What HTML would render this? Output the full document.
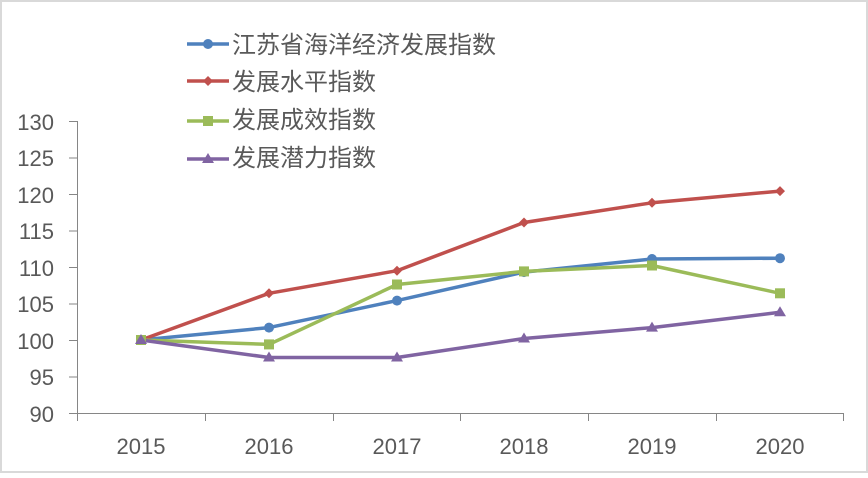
<!DOCTYPE html><html><head><style>body{margin:0;background:#fff}</style></head><body>
<svg width="868" height="473" xmlns="http://www.w3.org/2000/svg" font-family="Liberation Sans, Noto Sans CJK SC, sans-serif">
<rect x="1" y="1" width="866" height="471" fill="#fff" stroke="#d9d9d9" stroke-width="2"/>
<g stroke="#868686" stroke-width="1">
<line x1="77.5" y1="121" x2="77.5" y2="413"/>
<line x1="77" y1="413.5" x2="844" y2="413.5"/>
<g><line x1="69" x2="77" y1="121.5" y2="121.5"/><line x1="69" x2="77" y1="158" y2="158"/><line x1="69" x2="77" y1="194.5" y2="194.5"/><line x1="69" x2="77" y1="231" y2="231"/><line x1="69" x2="77" y1="267.5" y2="267.5"/><line x1="69" x2="77" y1="304" y2="304"/><line x1="69" x2="77" y1="340.5" y2="340.5"/><line x1="69" x2="77" y1="377" y2="377"/><line x1="69" x2="77" y1="413.5" y2="413.5"/></g>
<line x1="77.5" x2="77.5" y1="413" y2="421"/><line x1="205.5" x2="205.5" y1="413" y2="421"/><line x1="333.5" x2="333.5" y1="413" y2="421"/><line x1="460.5" x2="460.5" y1="413" y2="421"/><line x1="588.5" x2="588.5" y1="413" y2="421"/><line x1="716.5" x2="716.5" y1="413" y2="421"/><line x1="843.5" x2="843.5" y1="413" y2="421"/>
</g>
<g font-size="22" fill="#595959" text-anchor="end">
<text x="54" y="130">130</text><text x="54" y="166">125</text><text x="54" y="203">120</text><text x="54" y="239">115</text><text x="54" y="276">110</text><text x="54" y="312">105</text><text x="54" y="349">100</text><text x="54" y="385">95</text><text x="54" y="422">90</text>
</g>
<g font-size="22" fill="#595959" text-anchor="middle">
<text x="141" y="454">2015</text><text x="269" y="454">2016</text><text x="397" y="454">2017</text><text x="524" y="454">2018</text><text x="652" y="454">2019</text><text x="780" y="454">2020</text>
</g>
<g fill="none" stroke-width="3.5" stroke-linejoin="round">
<polyline stroke="#4f81bd" points="141,340 269,327.6 397,300.6 524,272.1 652,259 780,258.2"/>
<polyline stroke="#c0504d" points="141,340 269,293.3 397,270.7 524,222.5 652,202.8 780,191.1"/>
<polyline stroke="#9bbb59" points="141,340 269,344.4 397,284.5 524,271.4 652,265.5 780,293.3"/>
<polyline stroke="#8064a2" points="141,340 269,357.5 397,357.5 524,338.5 652,327.6 780,312.3"/>
</g>
<g fill="#4f81bd"><circle cx="141" cy="340" r="5"/><circle cx="269" cy="327.6" r="5"/><circle cx="397" cy="300.6" r="5"/><circle cx="524" cy="272.1" r="5"/><circle cx="652" cy="259" r="5"/><circle cx="780" cy="258.2" r="5"/></g>
<g fill="#c0504d"><path d="M141 335l5 5-5 5-5-5z"/><path d="M269 288.3l5 5-5 5-5-5z"/><path d="M397 265.7l5 5-5 5-5-5z"/><path d="M524 217.5l5 5-5 5-5-5z"/><path d="M652 197.8l5 5-5 5-5-5z"/><path d="M780 186.1l5 5-5 5-5-5z"/></g>
<g fill="#9bbb59"><rect x="136" y="335" width="10" height="10"/><rect x="264" y="339.4" width="10" height="10"/><rect x="392" y="279.5" width="10" height="10"/><rect x="519" y="266.4" width="10" height="10"/><rect x="647" y="260.5" width="10" height="10"/><rect x="775" y="288.3" width="10" height="10"/></g>
<g fill="#8064a2"><path d="M141 334l6 10h-12z"/><path d="M269 351.5l6 10h-12z"/><path d="M397 351.5l6 10h-12z"/><path d="M524 332.5l6 10h-12z"/><path d="M652 321.6l6 10h-12z"/><path d="M780 306.3l6 10h-12z"/></g>
<g stroke-width="3.5"><line x1="187" x2="229" y1="44" y2="44" stroke="#4f81bd"/><line x1="187" x2="229" y1="81" y2="81" stroke="#c0504d"/><line x1="187" x2="229" y1="121" y2="121" stroke="#9bbb59"/><line x1="187" x2="229" y1="159" y2="159" stroke="#8064a2"/></g>
<circle cx="208" cy="44" r="5" fill="#4f81bd"/><path d="M208 76l5 5-5 5-5-5z" fill="#c0504d"/><rect x="203" y="116" width="10" height="10" fill="#9bbb59"/><path d="M208 153l6 10h-12z" fill="#8064a2"/>
<g font-size="24" fill="#595959"><text x="232" y="53">江苏省海洋经济发展指数</text><text x="232" y="90">发展水平指数</text><text x="232" y="128">发展成效指数</text><text x="232" y="166">发展潜力指数</text></g>
</svg></body></html>
